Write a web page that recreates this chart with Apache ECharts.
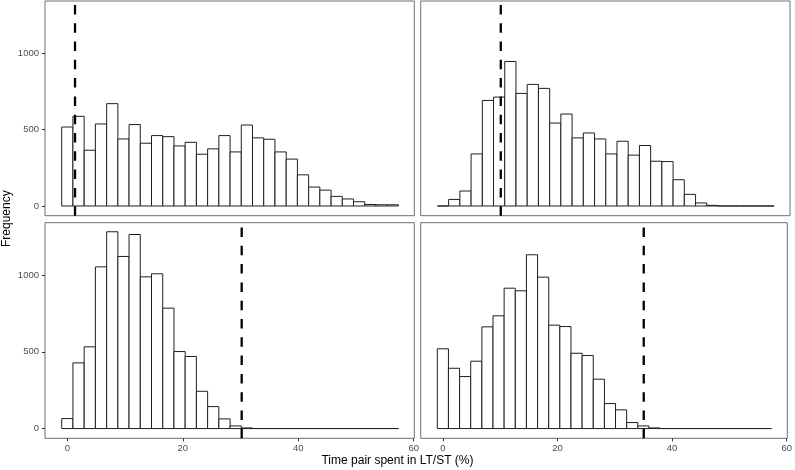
<!DOCTYPE html>
<html>
<head>
<meta charset="utf-8">
<script src="https://cdn.jsdelivr.net/npm/echarts@6/dist/echarts.min.js"></script>
<style>
html,body{margin:0;padding:0;background:#fff;}
#chart{width:795px;height:470px;}
</style>
</head>
<body>
<div id="chart"></div>
<script>
// ---- data ----
const binWidth = 1.944;
const binCenters = [0, 1.94, 3.89, 5.83, 7.78, 9.72, 11.66, 13.61, 15.55, 17.5,
  19.44, 21.38, 23.33, 25.27, 27.22, 29.16, 31.1, 33.05, 34.99, 36.94,
  38.88, 40.82, 42.77, 44.71, 46.66, 48.6, 50.54, 52.49, 54.43, 56.38];
const countsTL = [517,587,365,537,670,439,533,411,461,454,393,417,339,374,461,354,530,446,437,354,307,204,124,104,63,46,28,10,8,8];
const countsTR = [0,43,98,341,691,713,946,737,796,770,543,602,446,478,439,341,424,333,396,293,291,172,76,20,4,0,0,0,0,0];
const countsBL = [65,428,533,1054,1283,1122,1265,989,1009,785,502,470,243,143,63,17,4,0,0,0,0,0,0,0,0,0,0,0,0,0];
const countsBR = [520,393,339,439,663,735,915,898,1133,987,674,665,491,476,322,163,122,39,17,4,0,0,0,0,0,0,0,0,0,0];
const vlines = [1.33, 10, 30.2, 35.05];
const xTicks = [0, 20, 40, 60];
const yTicks = [0, 500, 1000];
const xTitle = 'Time pair spent in LT/ST (%)';
const yTitle = 'Frequency';

// ---- layout ----
const X_MIN = -3.87, X_MAX = 60.1, Y_MIN = -63.5, Y_MAX = 1342;
const panels = [
  {left: 45, top: 1, width: 369.3, height: 214.7, counts: countsTL, showY: true, showX: false},
  {left: 420.7, top: 1, width: 369.3, height: 214.7, counts: countsTR, showY: false, showX: false},
  {left: 45, top: 222.7, width: 369.3, height: 215.6, counts: countsBL, showY: true, showX: true},
  {left: 420.7, top: 222.7, width: 369.3, height: 215.6, counts: countsBR, showY: false, showX: true}
];
const tickColor = '#333333', labelColor = '#4d4d4d', borderColor = '#707070';
const font = 'Liberation Sans, Arial, Helvetica, sans-serif';

const grid = [], xAxis = [], yAxis = [], series = [];
panels.forEach((p, i) => {
  grid.push({left: p.left, top: p.top, width: p.width, height: p.height,
    show: true, borderColor: borderColor, borderWidth: 1, backgroundColor: '#fff'});
  xAxis.push({type: 'value', gridIndex: i, min: X_MIN, max: X_MAX, position: 'bottom',
    axisLine: {show: false, onZero: false}, splitLine: {show: false},
    axisTick: {show: p.showX, length: 3, lineStyle: {color: tickColor}, customValues: xTicks},
    axisLabel: {show: p.showX, customValues: xTicks, color: labelColor, fontSize: 9.5, fontFamily: font, margin: 5,
      formatter: v => String(v)}
  });
  yAxis.push({type: 'value', gridIndex: i, min: Y_MIN, max: Y_MAX, position: 'left',
    axisLine: {show: false, onZero: false}, splitLine: {show: false},
    axisTick: {show: p.showY, length: 3, lineStyle: {color: tickColor}, customValues: yTicks},
    axisLabel: {show: p.showY, customValues: yTicks, color: labelColor, fontSize: 9.5, fontFamily: font, margin: 6,
      formatter: v => String(v)}
  });
  series.push({
    type: 'custom', xAxisIndex: i, yAxisIndex: i, clip: true, silent: true,
    data: binCenters.map((c, k) => [c, p.counts[k]]),
    renderItem: function (params, api) {
      const c = api.value(0), v = api.value(1);
      const p0 = api.coord([c - binWidth / 2, v]);
      const p1 = api.coord([c + binWidth / 2, 0]);
      return {type: 'rect',
        shape: {x: p0[0], y: p0[1], width: p1[0] - p0[0], height: p1[1] - p0[1]},
        style: {fill: '#ffffff', stroke: '#1f1f1f', lineWidth: 1}};
    }
  });
  series.push({
    type: 'line', xAxisIndex: i, yAxisIndex: i, silent: true, symbol: 'none',
    data: [[vlines[i], Y_MIN], [vlines[i], Y_MAX]],
    lineStyle: {color: '#000', width: 2.3, type: [9.5, 8.8]}, z: 5
  });
});

const chart = echarts.init(document.getElementById('chart'), null, {renderer: 'canvas'});
chart.setOption({
  animation: false,
  backgroundColor: '#ffffff',
  grid, xAxis, yAxis, series,
  graphic: [
    {type: 'text', left: 'center', x: 0, top: 455,
      style: {text: xTitle, fontSize: 12, fontFamily: font, fill: '#000'}},
    {type: 'text', x: 1, y: 247, rotation: Math.PI / 2,
      style: {text: yTitle, fontSize: 12, fontFamily: font, fill: '#000'}}
  ]
});
</script>
</body>
</html>
